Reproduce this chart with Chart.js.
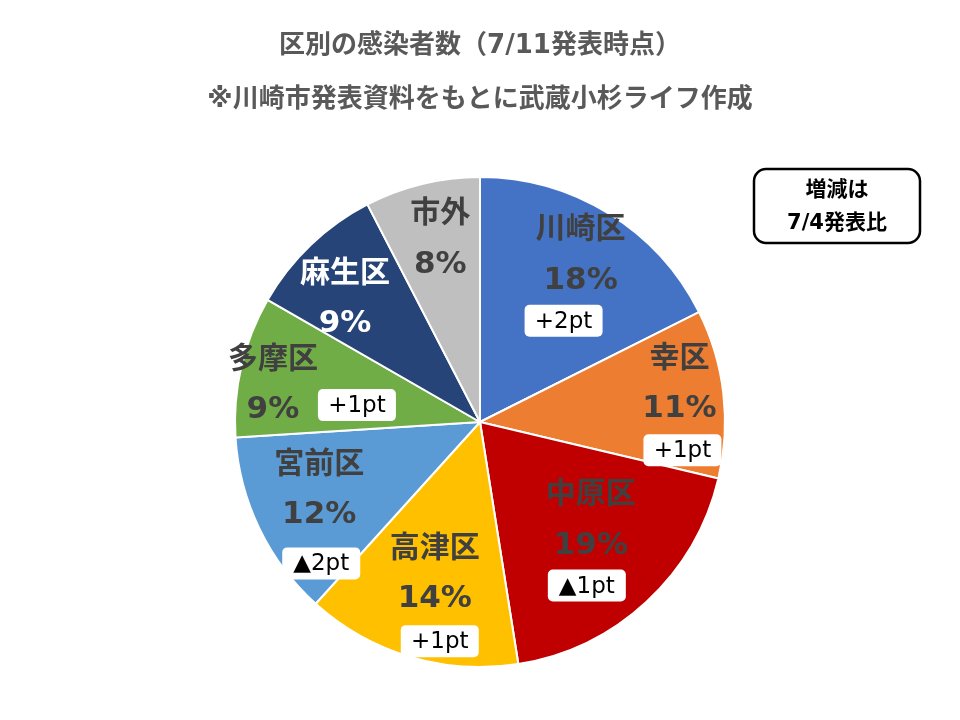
<!DOCTYPE html>
<html>
<head>
<meta charset="utf-8">
<script src="https://cdn.jsdelivr.net/npm/chart.js@4"></script>
<style>
  html, body { margin: 0; padding: 0; background: #fff; }
  #wrap { width: 960px; height: 720px; }
</style>
</head>
<body>
<div id="wrap"><canvas id="PieChart"></canvas></div>
<script>
// data (share of cases by ward, %)
var Wards = ['川崎区', '幸区', '中原区', '高津区', '宮前区', '多摩区', '麻生区', '市外'];
var Shares = [17.6, 11.1, 18.8, 14.2, 12.3, 9.3, 9.1, 7.6];
var Changes = ['+2pt', '+1pt', '▲1pt', '+1pt', '▲2pt', '+1pt', null, null];
var Colors = ['#4472C4', '#ED7D31', '#C00000', '#FFC000', '#5B9BD5', '#70AD47', '#264478', '#BFBFBF'];

// label placement: [fraction of radius, angle shift in degrees], badge offset [dx, dy]
var LabelPos = [[0.80, -0.8], [0.83, -4.6], [0.60, -6.1], [0.64, 0.2], [0.71, 3.3], [0.86, -2.5], [0.75, -3.5], [0.77, 1.5]];
var BadgePos = [[-17, 67], [3, 68], [-4, 67], [5, 69], [2, 75], [84, 22], null, null];

var FONT = '"DejaVu Sans", "Noto Sans CJK JP"';

var sliceLabels = {
    id: 'sliceLabels',
    afterDatasetsDraw: function (chart) {
        var ctx = chart.ctx;
        var arcs = chart.getDatasetMeta(0).data;
        ctx.save();
        ctx.textAlign = 'center';
        ctx.textBaseline = 'middle';
        for (var i = 0; i < arcs.length; i++) {
            var arc = arcs[i];
            var mid = (arc.startAngle + arc.endAngle) / 2 + LabelPos[i][1] * Math.PI / 180;
            var r = arc.outerRadius * LabelPos[i][0];
            var cx = arc.x + r * Math.cos(mid);
            var cy = arc.y + r * Math.sin(mid);
            ctx.fillStyle = (i == 6) ? '#FFFFFF' : '#404040';
            ctx.font = 'bold 30px "Noto Sans CJK JP"';
            ctx.fillText(Wards[i], cx, cy - 27);
            ctx.font = 'bold 31px "DejaVu Sans"';
            ctx.fillText(Math.round(Shares[i]) + '%', cx, cy + 27);
            if (Changes[i]) {
                var bx = cx + BadgePos[i][0];
                var by = cy + BadgePos[i][1];
                ctx.fillStyle = '#FFFFFF';
                ctx.beginPath();
                ctx.roundRect(bx - 39, by - 16, 78, 32, 5);
                ctx.fill();
                ctx.fillStyle = '#000000';
                ctx.font = '23px "DejaVu Sans"';
                ctx.fillText(Changes[i], bx, by + 1);
            }
        }
        // note box top right
        ctx.lineWidth = 2.5;
        ctx.strokeStyle = '#000000';
        ctx.beginPath();
        ctx.roundRect(754, 169, 166, 74, 12);
        ctx.stroke();
        ctx.fillStyle = '#000000';
        ctx.font = 'bold 21px ' + FONT;
        ctx.fillText('増減は', 837, 191);
        ctx.fillText('7/4発表比', 837, 224);
        ctx.restore();
    }
};

var chartdata = {
    labels: Wards,
    datasets: [
        {
            data: Shares,
            backgroundColor: Colors,
            borderColor: '#FFFFFF',
            borderWidth: 2
        }
    ]
};

var pieGraph = new Chart(document.getElementById('PieChart'), {
    type: 'pie',
    data: chartdata,
    options: {
        responsive: true,
        maintainAspectRatio: false,
        animation: false,
        layout: { padding: { top: 0, bottom: 52, left: 0, right: 0 } },
        plugins: {
            legend: { display: false },
            tooltip: { enabled: false },
            title: {
                display: true,
                text: ['区別の感染者数（7/11発表時点）', '※川崎市発表資料をもとに武蔵小杉ライフ作成'],
                color: '#595959',
                font: { family: FONT, size: 26, weight: 'bold', lineHeight: 54 / 26 },
                padding: { top: 19, bottom: 49 }
            }
        }
    },
    plugins: [sliceLabels]
});
</script>
</body>
</html>
